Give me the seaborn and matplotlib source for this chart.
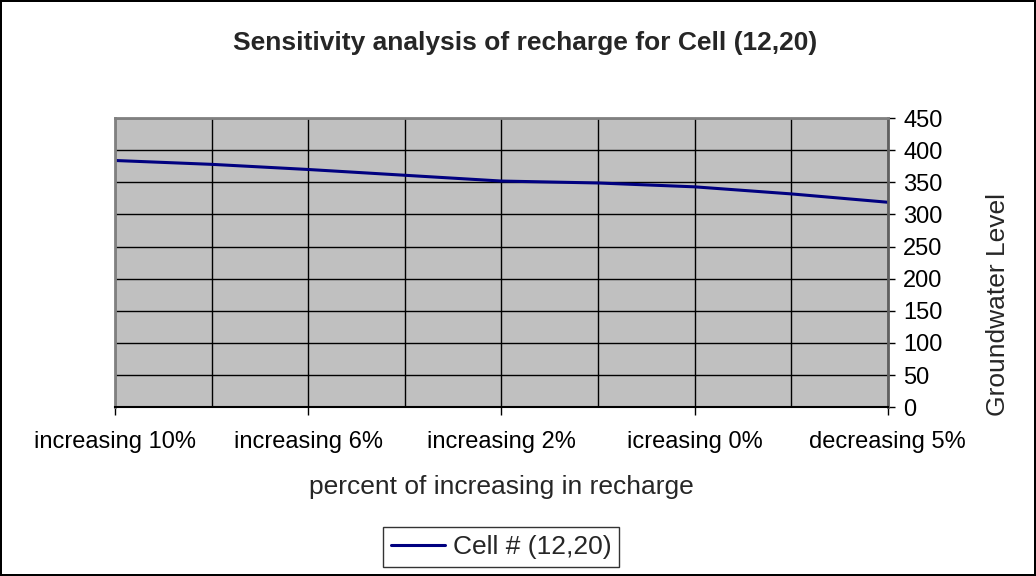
import matplotlib
matplotlib.use("Agg")
import matplotlib.pyplot as plt
import seaborn as sns
import pandas as pd

# data
categories = ["increasing 10%", "increasing 8%", "increasing 6%", "increasing 4%",
              "increasing 2%", "increasing 1%", "icreasing 0%", "decreasing 2%",
              "decreasing 5%"]
groundwater = [384, 378, 370, 361, 352, 349, 343, 332, 319]
y_ticks = [0, 50, 100, 150, 200, 250, 300, 350, 400, 450]

df = pd.DataFrame({"pos": range(len(categories)), "level": groundwater})

sns.set_style("white")
plt.rcParams["font.family"] = ["Liberation Sans", "DejaVu Sans"]

fig = plt.figure(figsize=(10.36, 5.76), dpi=100)
fig.patch.set_edgecolor("black")
fig.patch.set_linewidth(1.5)
ax = fig.add_axes([0.111, 0.293, 0.746, 0.502])
ax.set_facecolor("#C0C0C0")

sns.lineplot(data=df, x="pos", y="level", color="#000080", linewidth=2.2,
             ax=ax, label="Cell # (12,20)", legend=False)

ax.set_xlim(0, len(categories) - 1)
ax.set_ylim(0, 450)
ax.set_yticks(y_ticks)
ax.yaxis.tick_right()
ax.tick_params(axis="y", direction="out", length=5, width=1, pad=6, labelsize=17,
               left=False, right=True, labelleft=False, labelright=True, colors="black")

major = list(range(0, len(categories), 2))
minor = list(range(1, len(categories), 2))
ax.set_xticks(major)
ax.set_xticklabels([categories[i] for i in major], fontsize=17)
ax.set_xticks(minor, minor=True)
ax.tick_params(axis="x", which="major", direction="out", length=6, width=1, pad=11,
               bottom=True, colors="black")
ax.tick_params(axis="x", which="minor", length=0)

ax.grid(True, which="major", axis="both", color="black", linewidth=1)
ax.grid(True, which="minor", axis="x", color="black", linewidth=1)
ax.set_axisbelow(True)

for side in ["top", "left"]:
    ax.spines[side].set_color("#808080")
    ax.spines[side].set_linewidth(2)
ax.spines["right"].set_color("#606060")
ax.spines["right"].set_linewidth(2)
ax.spines["bottom"].set_color("black")
ax.spines["bottom"].set_linewidth(1.5)

ax.set_xlabel("")
ax.set_ylabel("")
fig.text(0.4836, 0.155, "percent of increasing in recharge", ha="center", va="center",
         fontsize=19)
fig.text(0.963, 0.472, "Groundwater Level", ha="center", va="center",
         rotation=90, fontsize=19)

fig.text(0.507, 0.925, "Sensitivity analysis of recharge for Cell (12,20)",
         ha="center", va="center", fontsize=19, fontweight="bold")

leg = fig.legend(loc="center", bbox_to_anchor=(0.4836, 0.05), fontsize=19,
                 frameon=True, fancybox=False, edgecolor="black", handlelength=2.05,
                 handletextpad=0.3, borderpad=0.3, borderaxespad=0)
leg.get_frame().set_linewidth(1)

fig.savefig("out.png", dpi=100)
